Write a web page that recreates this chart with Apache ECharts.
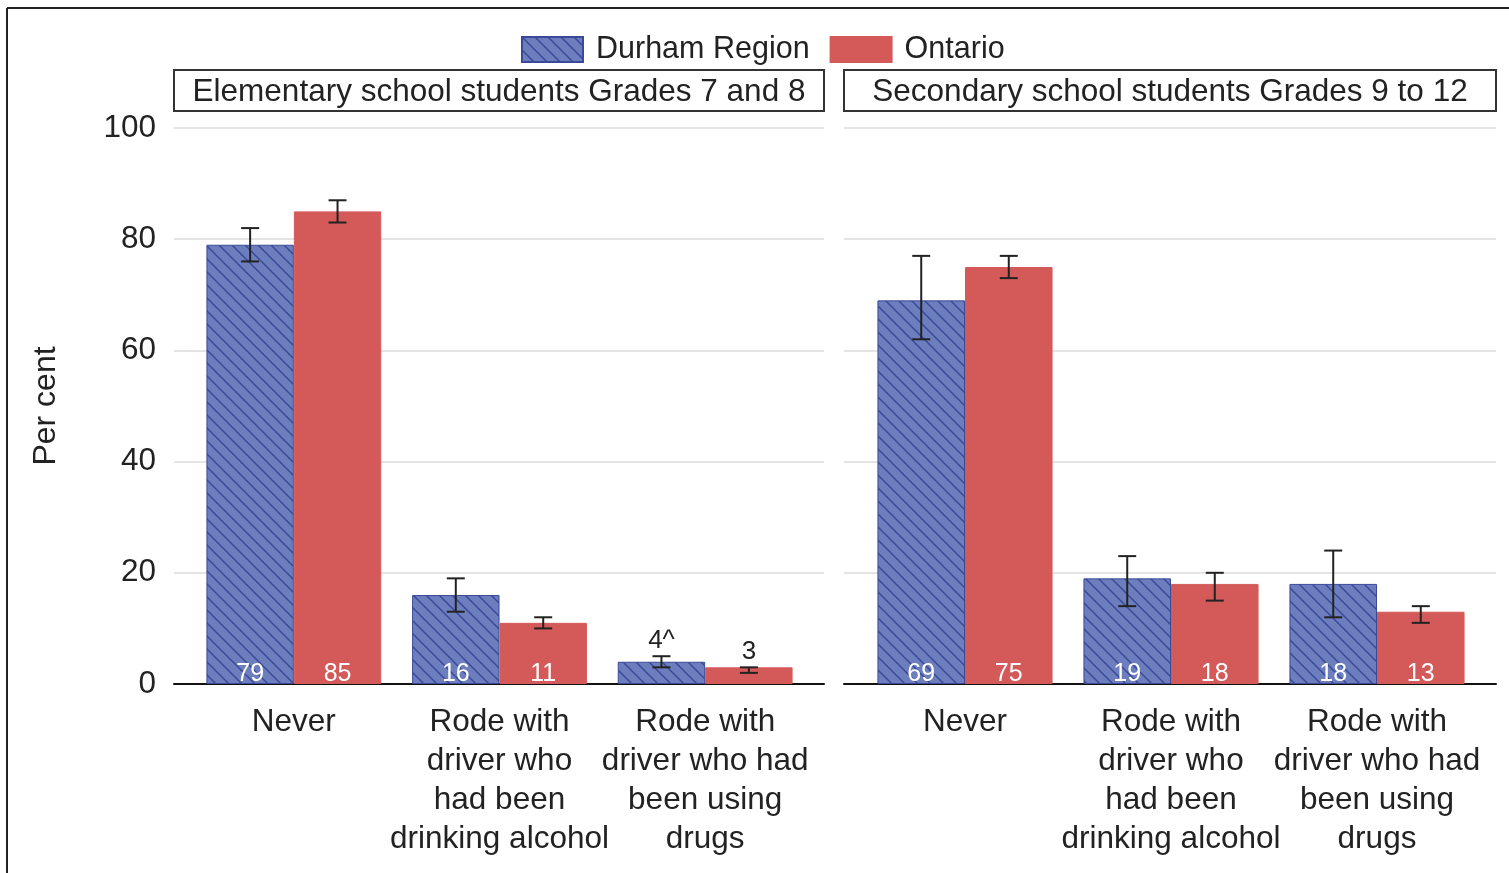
<!DOCTYPE html>
<html>
<head>
<meta charset="utf-8">
<script src="https://cdn.jsdelivr.net/npm/echarts@6/dist/echarts.min.js"></script>
<style>html,body{margin:0;padding:0;background:#fff}#c{width:1509px;height:873px}</style>
</head>
<body>
<div id="c"></div>
<script>
const categories = ['Never', 'Rode with\ndriver who\nhad been\ndrinking alcohol', 'Rode with\ndriver who had\nbeen using\ndrugs'];
const panelTitles = ['Elementary school students Grades 7 and 8', 'Secondary school students Grades 9 to 12'];
const seriesNames = ['Durham Region', 'Ontario'];
const yTicks = [0, 20, 40, 60, 80, 100];

const elemDurham = [79, 16, 4];
const elemDurhamLow = [76, 13, 3];
const elemDurhamHigh = [82, 19, 5];
const elemDurhamFlag = ['', '', '^'];
const elemOntario = [85, 11, 3];
const elemOntarioLow = [83, 10, 2];
const elemOntarioHigh = [87, 12, 3];
const elemOntarioFlag = ['', '', ''];

const secDurham = [69, 19, 18];
const secDurhamLow = [62, 14, 12];
const secDurhamHigh = [77, 23, 24];
const secDurhamFlag = ['', '', ''];
const secOntario = [75, 18, 13];
const secOntarioLow = [73, 15, 11];
const secOntarioHigh = [77, 20, 14];
const secOntarioFlag = ['', '', ''];

const FONT = '"Liberation Sans", Arial, sans-serif';
const TXT = '#222';
const BLUE = '#6c7ebe';
const HATCH = '#3a4a98';
const RED = '#d45a5a';
const GAP = 0.15;

// hatch pattern
const pc = document.createElement('canvas');
const T = 13;
pc.width = T; pc.height = T;
const g = pc.getContext('2d');
g.fillStyle = BLUE; g.fillRect(0, 0, T, T);
g.strokeStyle = HATCH; g.lineWidth = 1.5;
g.beginPath();
g.moveTo(-1, -1); g.lineTo(T + 1, T + 1);
g.moveTo(-T - 1, -1); g.lineTo(1, T + 1);
g.moveTo(T - 1, -1); g.lineTo(2 * T + 1, T + 1);
g.stroke();
const hatch = { image: pc, repeat: 'repeat' };

const chart = echarts.init(document.getElementById('c'), null, { renderer: 'canvas' });

function barLabel() {
  return {
    show: true, position: 'insideBottom', distance: 0, color: '#fff',
    fontSize: 25, lineHeight: 20, fontFamily: FONT,
    formatter: p => (p.value >= 5 ? String(p.value) : '')
  };
}

function errRows(dLow, dHigh, dVal, dFlag, oLow, oHigh, oVal, oFlag) {
  const rows = [], meta = [];
  for (let i = 0; i < categories.length; i++) {
    rows.push([i, dLow[i], dHigh[i], dVal[i], 0]); meta.push(dFlag[i]);
    rows.push([i, oLow[i], oHigh[i], oVal[i], 1]); meta.push(oFlag[i]);
  }
  return { rows, meta };
}

function errSeries(ax, pack) {
  return {
    type: 'custom', xAxisIndex: ax, yAxisIndex: ax, z: 10, silent: true,
    data: pack.rows,
    encode: { x: 0, y: [1, 2] },
    renderItem: function (params, api) {
      const cat = api.value(0);
      const lo = api.coord([cat, api.value(1)]);
      const hi = api.coord([cat, api.value(2)]);
      const band = api.size([1, 0])[0];
      const bw = band * (1 - GAP) / 2;
      const x = lo[0] + (api.value(4) === 0 ? -bw / 2 : bw / 2);
      const cap = 9;
      const st = { stroke: TXT, lineWidth: 2 };
      const children = [
        { type: 'line', shape: { x1: x, y1: lo[1], x2: x, y2: hi[1] }, style: st },
        { type: 'line', shape: { x1: x - cap, y1: lo[1], x2: x + cap, y2: lo[1] }, style: st },
        { type: 'line', shape: { x1: x - cap, y1: hi[1], x2: x + cap, y2: hi[1] }, style: st }
      ];
      const v = api.value(3);
      if (v < 5) {
        children.push({
          type: 'text',
          style: { text: String(v) + pack.meta[params.dataIndex], x: x, y: hi[1] - 2,
            align: 'center', verticalAlign: 'bottom', fill: TXT, fontSize: 26, fontFamily: FONT }
        });
      }
      return { type: 'group', children };
    }
  };
}

const elemPack = errRows(elemDurhamLow, elemDurhamHigh, elemDurham, elemDurhamFlag, elemOntarioLow, elemOntarioHigh, elemOntario, elemOntarioFlag);
const secPack = errRows(secDurhamLow, secDurhamHigh, secDurham, secDurhamFlag, secOntarioLow, secOntarioHigh, secOntario, secOntarioFlag);

const TOP = 128, H = 556;
const grids = [
  { left: 174, width: 650, top: TOP, height: H },
  { left: 191, width: 617, top: TOP, height: H },
  { left: 844, width: 652, top: TOP, height: H },
  { left: 862, width: 618, top: TOP, height: H }
];

function bgX(i) {
  return { type: 'category', gridIndex: i, data: [''], boundaryGap: false,
    axisLine: { show: true, lineStyle: { color: '#111', width: 2 } },
    axisTick: { show: false }, axisLabel: { show: false }, splitLine: { show: false } };
}
function barX(i) {
  return { type: 'category', gridIndex: i, data: categories,
    axisLine: { show: false }, axisTick: { show: false },
    axisLabel: { show: true, interval: 0, margin: 19, color: TXT, fontSize: 31.5, lineHeight: 39, fontFamily: FONT } };
}
function bgY(i, labels) {
  return { type: 'value', gridIndex: i, min: yTicks[0], max: yTicks[yTicks.length - 1], interval: yTicks[1] - yTicks[0],
    axisLine: { show: false }, axisTick: { show: false },
    axisLabel: { show: labels, margin: 18, color: TXT, fontSize: 31.5, fontFamily: FONT },
    splitLine: { show: true, lineStyle: { color: '#e4e4e4', width: 2 } },
    name: labels ? 'Per cent' : '', nameLocation: 'middle', nameRotate: 90, nameGap: 112,
    nameTextStyle: { color: TXT, fontSize: 32, fontFamily: FONT } };
}
function barY(i) {
  return { type: 'value', gridIndex: i, min: 0, max: 100, show: false, splitLine: { show: false } };
}

function bars(ax, name, vals, color, border) {
  return { type: 'bar', name, xAxisIndex: ax, yAxisIndex: ax, data: vals,
    barGap: '0%', barCategoryGap: (GAP * 100) + '%', z: 5,
    itemStyle: { color, borderColor: border, borderWidth: 1 },
    label: barLabel() };
}

const option = {
  animation: false,
  backgroundColor: '#fff',
  legend: {
    data: seriesNames, left: 521, top: 34, padding: 0, itemWidth: 61, itemHeight: 25, itemGap: 20,
    icon: 'rect', textStyle: { color: TXT, fontSize: 30.5, fontFamily: FONT, padding: [0, 0, 0, 8] },
    selectedMode: false
  },
  grid: grids,
  xAxis: [bgX(0), barX(1), bgX(2), barX(3)],
  yAxis: [bgY(0, true), barY(1), bgY(2, false), barY(3)],
  series: [
    bars(1, seriesNames[0], elemDurham, hatch, HATCH),
    bars(1, seriesNames[1], elemOntario, RED, RED),
    errSeries(1, elemPack),
    bars(3, seriesNames[0], secDurham, hatch, HATCH),
    bars(3, seriesNames[1], secOntario, RED, RED),
    errSeries(3, secPack)
  ],
  graphic: [
    { type: 'line', shape: { x1: 7, y1: 8, x2: 7, y2: 873 }, style: { stroke: '#222', lineWidth: 2 } },
    { type: 'line', shape: { x1: 7, y1: 8, x2: 1509, y2: 8 }, style: { stroke: '#222', lineWidth: 2 } },
    { type: 'rect', shape: { x: 174, y: 70, width: 650, height: 41 }, style: { fill: '#fff', stroke: '#333', lineWidth: 2 } },
    { type: 'text', x: 499, y: 92, style: { text: panelTitles[0], align: 'center', verticalAlign: 'middle', fill: TXT, fontSize: 31.5, fontFamily: FONT } },
    { type: 'rect', shape: { x: 844, y: 70, width: 652, height: 41 }, style: { fill: '#fff', stroke: '#333', lineWidth: 2 } },
    { type: 'text', x: 1170, y: 92, style: { text: panelTitles[1], align: 'center', verticalAlign: 'middle', fill: TXT, fontSize: 31.5, fontFamily: FONT } }
  ]
};
chart.setOption(option);
</script>
</body>
</html>
